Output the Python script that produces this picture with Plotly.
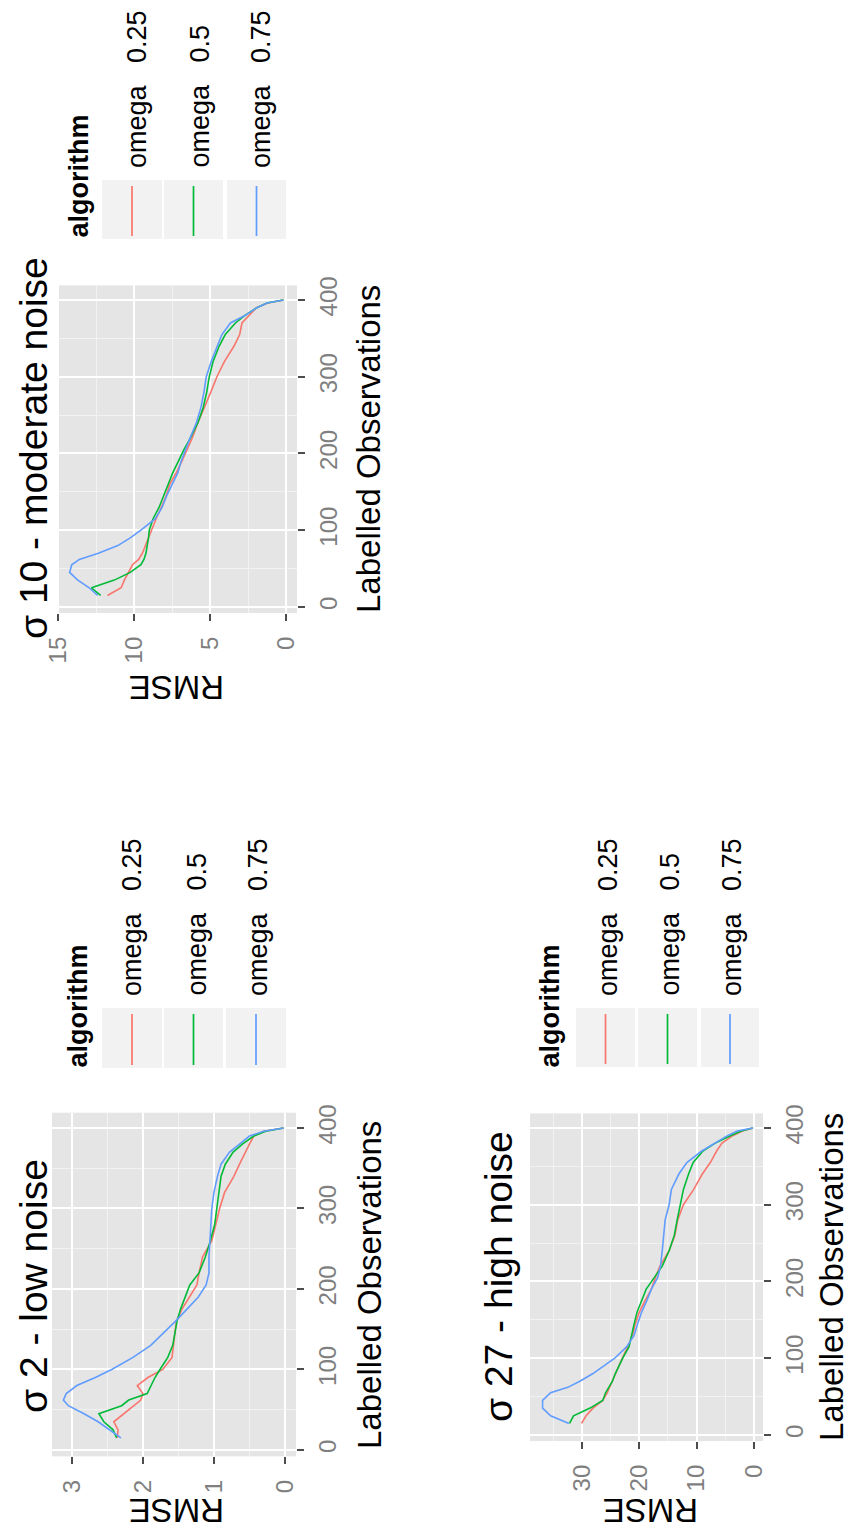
import plotly.graph_objects as go

W, H = 852, 1533
FONT = "Arial, Liberation Sans, sans-serif"

# ---------------- data ----------------
obs = [15, 25, 35, 45, 55, 62, 70, 80, 90, 100, 115, 130, 145, 160, 175, 190,
       205, 220, 240, 260, 280, 300, 320, 340, 355, 370, 380, 390, 396, 400]

algorithms = ["omega 0.25", "omega 0.5", "omega 0.75"]
colors = ["#F8766D", "#00BA38", "#619CFF"]

# sigma 2 - low noise
s2_w025 = [2.36, 2.35, 2.41, 2.27, 2.12, 2.03, 2.00, 2.08, 1.93, 1.72, 1.59, 1.57, 1.56, 1.53, 1.45, 1.35,
           1.24, 1.21, 1.16, 1.03, 0.98, 0.92, 0.85, 0.72, 0.64, 0.56, 0.50, 0.44, 0.30, 0.02]
s2_w050 = [2.37, 2.42, 2.55, 2.62, 2.30, 2.20, 1.94, 1.89, 1.83, 1.76, 1.65, 1.58, 1.55, 1.52, 1.47, 1.41,
           1.34, 1.21, 1.12, 1.05, 0.99, 0.96, 0.93, 0.90, 0.84, 0.73, 0.60, 0.44, 0.27, 0.02]
s2_w075 = [2.31, 2.47, 2.63, 2.83, 3.05, 3.12, 3.08, 2.93, 2.67, 2.44, 2.14, 1.89, 1.71, 1.54, 1.38, 1.22,
           1.11, 1.07, 1.07, 1.06, 1.05, 1.03, 1.00, 0.95, 0.90, 0.78, 0.64, 0.50, 0.30, 0.02]

# sigma 10 - moderate noise
s10_w025 = [11.75, 10.85, 10.64, 10.35, 10.10, 9.70, 9.45, 9.25, 9.05, 8.90, 8.55, 8.20, 7.88, 7.65, 7.22, 6.85,
            6.50, 6.18, 5.80, 5.35, 4.95, 4.55, 4.05, 3.42, 3.05, 2.90, 2.45, 1.95, 1.20, 0.17]
s10_w050 = [12.20, 12.80, 11.30, 10.25, 9.55, 9.35, 9.22, 9.12, 9.05, 9.00, 8.75, 8.35, 8.05, 7.80, 7.45, 7.08,
            6.72, 6.30, 5.80, 5.45, 5.22, 5.05, 4.80, 4.40, 4.00, 3.33, 2.70, 1.92, 1.26, 0.17]
s10_w075 = [12.40, 12.95, 13.70, 14.24, 14.10, 13.60, 12.35, 11.07, 10.25, 9.55, 8.60, 8.15, 7.85, 7.48, 7.12, 6.90,
            6.62, 6.32, 5.90, 5.60, 5.40, 5.25, 4.92, 4.50, 4.22, 3.66, 2.68, 1.92, 1.26, 0.17]

# sigma 27 - high noise
s27_w025 = [30.1, 29.3, 28.1, 26.4, 25.6, 25.2, 24.7, 24.2, 23.7, 23.0, 22.0, 21.2, 20.7, 20.0, 19.0, 17.9,
            17.2, 16.4, 14.8, 13.8, 13.3, 12.3, 10.5, 9.0, 7.6, 6.5, 5.6, 3.7, 2.0, 0.17]
s27_w050 = [32.2, 31.5, 28.6, 26.4, 25.9, 25.4, 24.7, 24.2, 23.6, 22.9, 21.8, 21.4, 20.9, 20.4, 19.6, 18.8,
            17.4, 16.0, 14.8, 13.9, 13.4, 12.9, 12.3, 11.4, 10.6, 8.9, 6.8, 4.1, 2.2, 0.17]
s27_w075 = [32.3, 35.5, 36.9, 36.9, 35.5, 32.5, 30.4, 28.1, 26.2, 24.3, 22.2, 20.9, 20.3, 19.6, 18.7, 17.9,
            16.8, 16.3, 16.0, 15.8, 15.5, 14.8, 14.4, 13.1, 11.7, 9.1, 6.9, 4.6, 2.9, 0.17]

obs_ticks = [0, 100, 200, 300, 400]
obs_minor = [50, 150, 250, 350]

# ---------------- layout helpers ----------------
def px(x):
    return x / W

def py(y):
    return 1 - y / H

PANEL_BG = "#E5E5E5"
MINOR_C = "#F2F2F2"
TICK_C = "#4D4D4D"
TICKLAB_C = "#7F7F7F"

panels = [
    dict(title="σ 10 - moderate noise", series=[s10_w025, s10_w050, s10_w075],
         xdom=(57, 297), ydom=(285.4, 613.1), xrange=[15.07, -0.72],
         xticks=[0, 5, 10, 15], xminor=[2.5, 7.5, 12.5],
         title_pos=(33, 448), ylab_pos=(368, 449), xlab_pos=(177, 687),
         legend=dict(title=(78, 240), keys_x=[(102, 162), (164, 223), (227, 286)], keys_y=(180, 239),
                     lab_x=[137, 199, 261], lab_bottom=170)),
    dict(title="σ 2 - low noise", series=[s2_w025, s2_w050, s2_w075],
         xdom=(52, 296), ydom=(1112.7, 1456.4), xrange=[3.28, -0.155],
         xticks=[0, 1, 2, 3], xminor=[0.5, 1.5, 2.5],
         title_pos=(33, 1286), ylab_pos=(369, 1285), xlab_pos=(177, 1511),
         legend=dict(title=(77, 1070), keys_x=[(102, 162), (164, 223), (226, 286)], keys_y=(1008, 1068),
                     lab_x=[132, 196, 258], lab_bottom=998)),
    dict(title="σ 27 - high noise", series=[s27_w025, s27_w050, s27_w075],
         xdom=(530, 763), ydom=(1113.4, 1441.1), xrange=[39.1, -1.6],
         xticks=[0, 10, 20, 30], xminor=[5, 15, 25, 35],
         title_pos=(498, 1277), ylab_pos=(831, 1277), xlab_pos=(651, 1511),
         legend=dict(title=(549, 1070), keys_x=[(576, 635), (638, 697), (701, 759)], keys_y=(1008, 1067),
                     lab_x=[608, 669, 732], lab_bottom=998)),
]

fig = go.Figure()
layout = dict(width=W, height=H, margin=dict(l=0, r=0, t=0, b=0, autoexpand=False),
              paper_bgcolor="white", plot_bgcolor=PANEL_BG, showlegend=False,
              font=dict(family=FONT, color="black"))
annotations = []
shapes = []

for i, p in enumerate(panels):
    n = "" if i == 0 else str(i + 1)
    xa, ya = "x" + n, "y" + n
    for name, vals, col in zip(algorithms, p["series"], colors):
        fig.add_trace(go.Scatter(x=vals, y=obs, mode="lines", name=name,
                                 line=dict(color=col, width=1.6),
                                 xaxis=xa, yaxis=ya, showlegend=False))
    layout["xaxis" + n] = dict(
        domain=[px(p["xdom"][0]), px(p["xdom"][1])], range=p["xrange"], anchor=ya,
        tickmode="array", tickvals=p["xticks"], ticktext=[str(t) for t in p["xticks"]],
        tickangle=-90, ticks="outside", ticklen=7, tickwidth=2, tickcolor=TICK_C,
        tickfont=dict(size=24, color=TICKLAB_C, family=FONT), ticklabelstandoff=6,
        showgrid=True, gridcolor="white", gridwidth=2.2, zeroline=False, showline=False,
        minor=dict(tickmode="array", tickvals=p["xminor"], showgrid=True,
                   gridcolor=MINOR_C, gridwidth=1.1, ticks=""),
        fixedrange=True)
    layout["yaxis" + n] = dict(
        domain=[py(p["ydom"][1]), py(p["ydom"][0])], range=[-8, 419], anchor=xa, side="right",
        tickmode="array", tickvals=obs_ticks, ticktext=[str(t) for t in obs_ticks],
        tickangle=-90, ticks="outside", ticklen=7, tickwidth=2, tickcolor=TICK_C,
        tickfont=dict(size=24, color=TICKLAB_C, family=FONT), ticklabelstandoff=3,
        showgrid=True, gridcolor="white", gridwidth=2.2, zeroline=False, showline=False,
        minor=dict(tickmode="array", tickvals=obs_minor, showgrid=True,
                   gridcolor=MINOR_C, gridwidth=1.1, ticks=""),
        fixedrange=True)

    # titles
    annotations.append(dict(text=p["title"], x=px(p["title_pos"][0]), y=py(p["title_pos"][1]),
                            xref="paper", yref="paper", showarrow=False, textangle=-90,
                            xanchor="center", yanchor="middle", font=dict(size=39, color="black")))
    annotations.append(dict(text="Labelled Observations", x=px(p["ylab_pos"][0]), y=py(p["ylab_pos"][1]),
                            xref="paper", yref="paper", showarrow=False, textangle=-90,
                            xanchor="center", yanchor="middle", font=dict(size=33, color="black")))
    annotations.append(dict(text="RMSE", x=px(p["xlab_pos"][0]), y=py(p["xlab_pos"][1]),
                            xref="paper", yref="paper", showarrow=False, textangle=180,
                            xanchor="center", yanchor="middle", font=dict(size=33, color="black")))

    # legend drawn rotated
    lg = p["legend"]
    annotations.append(dict(text="<b>algorithm</b>", x=px(lg["title"][0]), y=py(lg["title"][1]),
                            xref="paper", yref="paper", showarrow=False, textangle=-90,
                            xanchor="center", yanchor="bottom", font=dict(size=27, color="black")))
    for (x0, x1), lx, name, col in zip(lg["keys_x"], lg["lab_x"], algorithms, colors):
        y0, y1 = lg["keys_y"]
        shapes.append(dict(type="rect", xref="paper", yref="paper",
                           x0=px(x0), x1=px(x1), y0=py(y1), y1=py(y0),
                           fillcolor=MINOR_C, line=dict(width=0)))
        xc = (x0 + x1) / 2
        shapes.append(dict(type="line", xref="paper", yref="paper",
                           x0=px(xc), x1=px(xc), y0=py(y1 - 3), y1=py(y0 + 6),
                           line=dict(color=col, width=1.7)))
        label = name.replace(" ", "\u00a0\u00a0\u00a0")
        annotations.append(dict(text=label, x=px(lx), y=py(lg["lab_bottom"]),
                                xref="paper", yref="paper", showarrow=False, textangle=-90,
                                xanchor="center", yanchor="bottom", font=dict(size=27, color="black")))

layout["annotations"] = annotations
layout["shapes"] = shapes
fig.update_layout(**layout)
fig.write_html("out.html",
               post_script="document.body.style.margin='0';document.body.style.padding='0';")
